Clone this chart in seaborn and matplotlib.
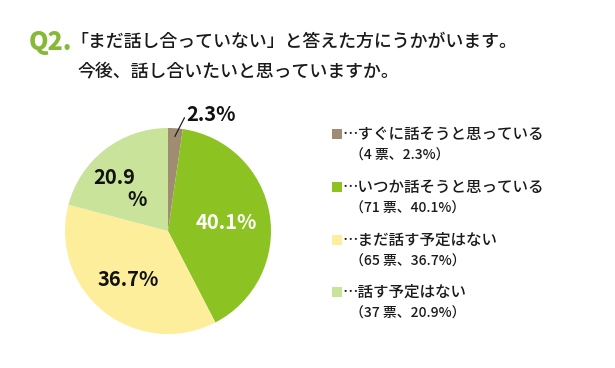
import numpy as np
import matplotlib
matplotlib.use("Agg")
import matplotlib.pyplot as plt
import seaborn as sns
from matplotlib.patches import Rectangle

# ---- data ----
categories = ["…すぐに話そうと思っている", "…いつか話そうと思っている", "…まだ話す予定はない", "…話す予定はない"]
votes = [4, 71, 65, 37]
percents = [2.3, 40.1, 36.7, 20.9]
sub_labels = ["（4 票、2.3%）", "（71 票、40.1%）", "（65 票、36.7%）", "（37 票、20.9%）"]
colors = ["#a08c72", "#8cc221", "#fdee9c", "#c9e39b"]
title_q = "Q2."
title_lines = ["「まだ話し合っていない」と答えた方にうかがいます。", "今後、話し合いたいと思っていますか。"]

sns.set_theme(style="white")
plt.rcParams['font.family'] = ['Noto Sans CJK JP', 'DejaVu Sans']

W, H = 615, 368
fig = plt.figure(figsize=(W / 100, H / 100), dpi=100)
fig.patch.set_facecolor("white")

def fx(px):
    return px / W

def fy(py):
    return 1 - py / H

# ---- pie ----
cx, cy, r = 168, 231, 103
ax = fig.add_axes([fx(cx - r), fy(cy + r), 2 * r / W, 2 * r / H])
wedges, _ = ax.pie(percents, colors=colors, startangle=90, counterclock=False,
                   radius=1.0, wedgeprops=dict(linewidth=0))
ax.set_xlim(-1, 1)
ax.set_ylim(-1, 1)
ax.set_aspect("auto")
ax.axis("off")

lab_font = dict(fontweight="bold", fontsize=14.5, ha="center", va="center")
# 2.3% outside with leader line
w0 = wedges[0]
ang = np.deg2rad((w0.theta1 + w0.theta2) / 2)
ax.plot([0.92 * np.cos(ang), 0.16], [0.92 * np.sin(ang), 1.10], color="#222222", lw=0.9, clip_on=False)
ax.text(0.42, 1.13, f"{percents[0]}%", color="#111111", **lab_font)
ax.text(0.57, 0.08, f"{percents[1]}%", color="white", **lab_font)
ax.text(-0.39, -0.47, f"{percents[2]}%", color="#111111", **lab_font)
ax.text(-0.52, 0.52, f"{percents[3]}", color="#111111", **lab_font)
ax.text(-0.30, 0.31, "%", color="#111111", **lab_font)

# ---- title ----
fig.text(fx(29), fy(42), title_q, color="#86b935", fontsize=18, fontweight="heavy", va="center", ha="left")
fig.text(fx(70), fy(42), title_lines[0], color="#1a1a1a", fontsize=12.9, fontweight="medium", va="center", ha="left")
fig.text(fx(78), fy(71), title_lines[1], color="#1a1a1a", fontsize=12.9, fontweight="medium", va="center", ha="left")

# ---- legend ----
row_y = [134, 187, 240, 292]
for i, (cat, sub, col) in enumerate(zip(categories, sub_labels, colors)):
    y = row_y[i]
    fig.patches.append(Rectangle((fx(332), fy(y + 5)), 10 / W, 10 / H, transform=fig.transFigure,
                                 facecolor=col, edgecolor="none", figure=fig))
    fig.text(fx(342), fy(y), cat, fontsize=11.2, color="#1a1a1a", fontweight="medium", va="center", ha="left")
    fig.text(fx(350), fy(y + 22), sub, fontsize=10, color="#1a1a1a", fontweight="medium", va="center", ha="left")

fig.savefig("out.png", dpi=100, facecolor="white")
